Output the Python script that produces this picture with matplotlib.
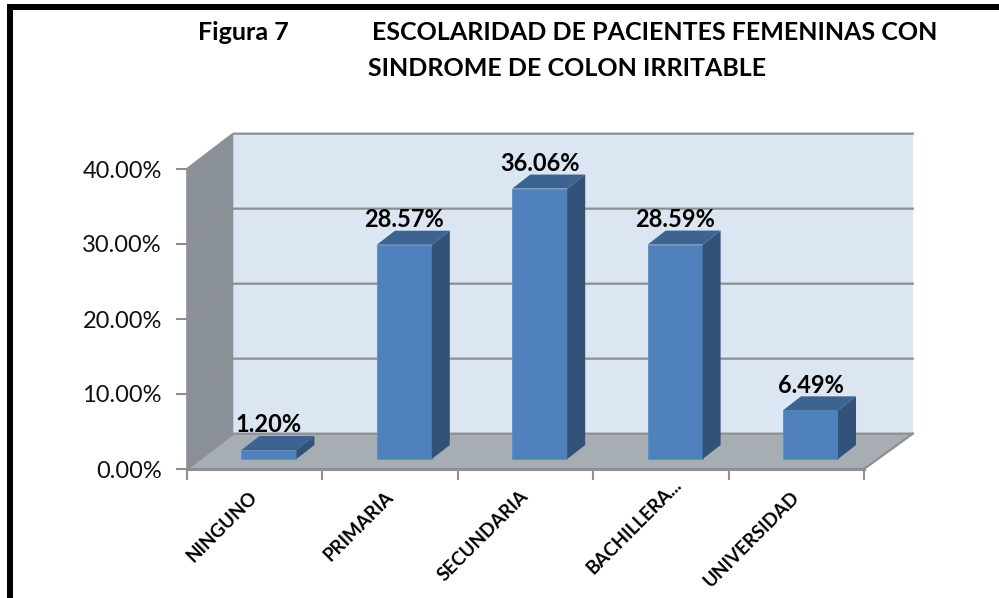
import matplotlib
matplotlib.use('Agg')
import matplotlib.pyplot as plt
from matplotlib.patches import Polygon, Rectangle
from matplotlib.transforms import ScaledTranslation

plt.rcParams['font.family'] = ['Lato', 'DejaVu Sans']

# Data
categories = ['NINGUNO', 'PRIMARIA', 'SECUNDARIA', 'BACHILLERA...', 'UNIVERSIDAD']
values = [1.20, 28.57, 36.06, 28.59, 6.49]
value_labels = ['1.20%', '28.57%', '36.06%', '28.59%', '6.49%']
y_ticks = [0, 10, 20, 30, 40]
y_tick_labels = ['0.00%', '10.00%', '20.00%', '30.00%', '40.00%']

W, H = 999, 598
fig = plt.figure(figsize=(W / 100, H / 100), dpi=100, facecolor='white')
ax = fig.add_axes([187 / W, 1 - 469 / H, 677 / W, 300 / H])
ax.set_xlim(0, len(categories))
ax.set_ylim(0, 40)
ax.patch.set_visible(False)
for s in ax.spines.values():
    s.set_visible(False)

# 3D look: depth of the box and of the bars, in data units
depth_x, depth_x_right, depth_y = 0.342, 0.36, 4.71
bar_w, bar_dx, bar_dy = 0.406, 0.133, 1.87
bar_shift, bar_base = 0.105, 1.33
n = len(categories)
back_right = n + depth_x_right
grid = '#8e8f91'


def poly(points, color, z, edge='none'):
    ax.add_patch(Polygon(points, closed=True, facecolor=color, edgecolor=edge,
                         linewidth=0.6, zorder=z, clip_on=False))


# walls and floor
poly([(depth_x, depth_y), (back_right, depth_y), (back_right, 40 + depth_y), (depth_x, 40 + depth_y)], '#dce6f2', 1)
poly([(0, 0), (depth_x, depth_y), (depth_x, 40 + depth_y), (0, 40)], '#8a9098', 1)
poly([(0, 0), (n, 0), (back_right, depth_y), (depth_x, depth_y)], '#a6adb3', 1)

# gridlines on the back and side walls
for t in y_ticks:
    ax.plot([0, depth_x, back_right], [t, t + depth_y, t + depth_y], color=grid, lw=1.6, zorder=2, clip_on=False)
ax.plot([n, back_right], [0, depth_y], color=grid, lw=1.6, zorder=2, clip_on=False)
ax.plot([0, n], [0, 0], color=grid, lw=2.2, zorder=2, clip_on=False)
ax.plot([0, 0], [0, 40], color=grid, lw=1.2, zorder=2, clip_on=False)

# bars
for i, v in enumerate(values):
    x0 = i + 0.5 + bar_shift - bar_w / 2
    x1 = x0 + bar_w
    y0 = bar_base
    y1 = bar_base + v
    poly([(x0, y0), (x1, y0), (x1, y1), (x0, y1)], '#4f81bd', 3, edge='#5d8cc4')
    poly([(x1, y0), (x1 + bar_dx, y0 + bar_dy), (x1 + bar_dx, y1 + bar_dy), (x1, y1)], '#325278', 3)
    poly([(x0, y1), (x1, y1), (x1 + bar_dx, y1 + bar_dy), (x0 + bar_dx, y1 + bar_dy)], '#3d6491', 3)
    ax.text(i + 0.5 + bar_shift, y1 + bar_dy + 1.5, value_labels[i], ha='center', va='center',
            fontsize=17, fontweight='bold', color='black', zorder=4)

# axis ticks and labels
ax.set_yticks(y_ticks)
ax.set_yticklabels(y_tick_labels, fontsize=17, color='#111111')
ax.set_xticks(range(n + 1))
ax.set_xticklabels([])
ax.set_xticks([i + 0.5 for i in range(n)], minor=True)
ax.set_xticklabels(categories, minor=True, rotation=45, ha='right', va='top', rotation_mode='anchor',
                   fontsize=13.5, fontweight='bold', color='black')
ax.tick_params(axis='y', length=8, width=1.5, color=grid, pad=10)
ax.tick_params(axis='x', which='major', length=8, width=1.5, color=grid)
ax.tick_params(axis='x', which='minor', length=0, pad=13.5)

# nudge the slanted labels; BACHILLERA... sits further right and higher
for i, lab in enumerate(ax.get_xticklabels(minor=True)):
    dx, dy = (12, 12) if i == 3 else (-6, 0)
    lab.set_transform(lab.get_transform() + ScaledTranslation(dx / 100, dy / 100, fig.dpi_scale_trans))

# title
fig.text(198 / W, 1 - 40 / H, 'Figura 7', fontsize=18, fontweight='bold', ha='left', va='baseline')
fig.text(372 / W, 1 - 40 / H, 'ESCOLARIDAD DE PACIENTES FEMENINAS CON', fontsize=18, fontweight='bold',
         ha='left', va='baseline')
fig.text(368 / W, 1 - 76 / H, 'SINDROME DE COLON IRRITABLE', fontsize=18, fontweight='bold',
         ha='left', va='baseline')

# black frame, open on the right and bottom
fig.add_artist(Rectangle((7 / W, 0), 6 / W, 1 - 4 / H, transform=fig.transFigure, facecolor='black', edgecolor='none'))
fig.add_artist(Rectangle((7 / W, 1 - 10 / H), 1 - 7 / W, 6 / H, transform=fig.transFigure, facecolor='black', edgecolor='none'))

fig.savefig('out.png', dpi=100)
